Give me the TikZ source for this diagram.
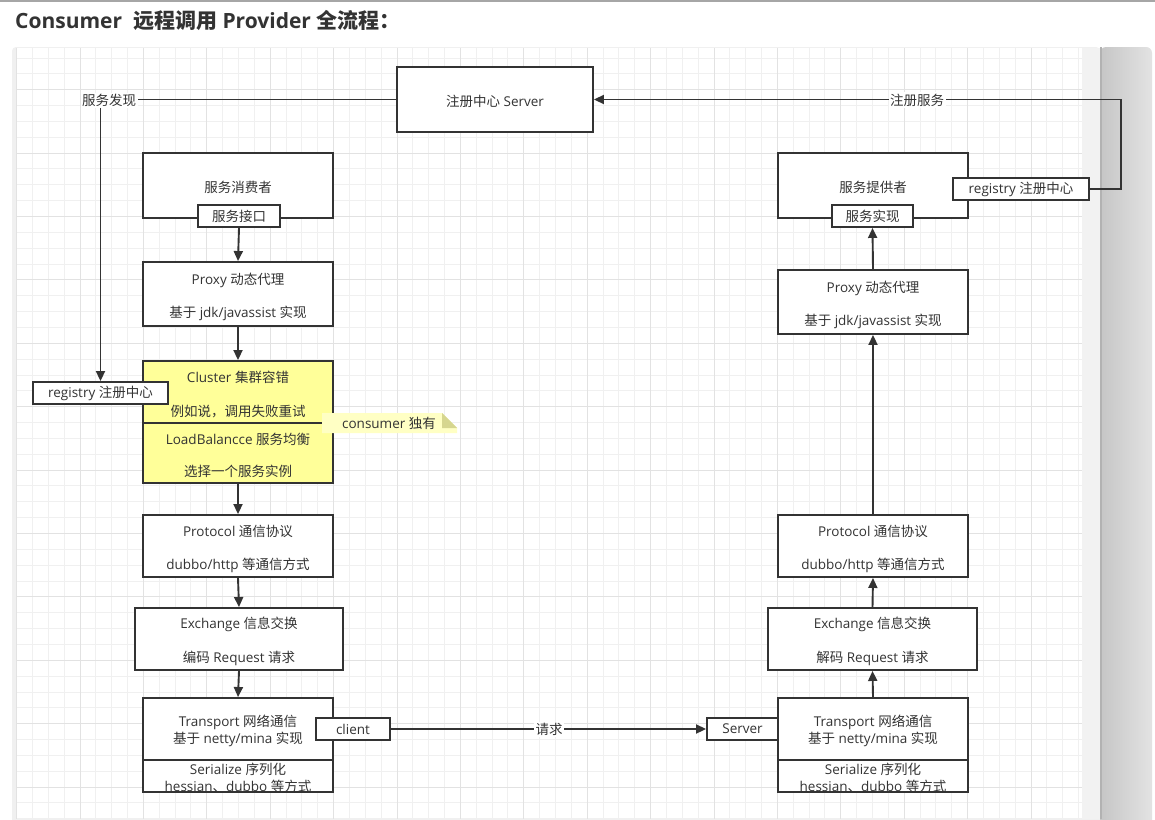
\documentclass[tikz,border=0pt]{standalone}
\usepackage{fontspec}
\setmainfont{Open Sans}
\newfontfamily\zh{Noto Sans CJK SC}
\usetikzlibrary{arrows.meta}
\definecolor{ink}{HTML}{333333}
\definecolor{gridminor}{HTML}{F0F0F0}
\definecolor{gridmajor}{HTML}{E2E2E2}
\definecolor{yel}{HTML}{FFFF99}
\definecolor{notefill}{HTML}{FFFFC4}
\definecolor{foldfill}{HTML}{D6D68F}
\definecolor{edgegrey}{HTML}{F2F2F2}
\tikzset{
  box/.style={draw=ink, line width=1.9pt, fill=white, inner sep=0pt},
  ybox/.style={box, fill=yel},
  small/.style={draw=ink, line width=1.9pt, fill=white, inner sep=0pt, text=ink,
    font=\fontsize{13.5}{17}\selectfont, minimum height=22pt},
  lbl/.style={fill=white, inner sep=1.5pt, text=ink, font=\fontsize{13.5}{17}\selectfont},
  txt/.style={inner sep=0pt, text=ink, font=\fontsize{13.5}{17}\selectfont, align=center},
  line/.style={draw=ink, line width=1.9pt},
  conn/.style={line, -{Triangle[length=10pt,width=9pt]}},
}
\begin{document}
\begin{tikzpicture}[x=1pt,y=-1pt]
\useasboundingbox (0,0) rectangle (1155,819);
% page chrome
\fill[white] (0,0) rectangle (1155,819);
\draw[gray!70, line width=1.5pt] (0,0.8) -- (1155,0.8);
\node[anchor=west, inner sep=0pt, text=ink, font=\fontsize{21}{25}\selectfont\bfseries] (title) at (15,20)
  {Consumer\ \ {\zh\bfseries 远程调用} Provider {\zh\bfseries 全流程：}};
\fill[gray!12, rounded corners=4pt] (12,47) rectangle (1100,830);
\fill[white] (16,48) rectangle (1082,819);
\fill[edgegrey] (1082,48) rectangle (1100,819);
\shade[left color=gray!45, right color=gray!22, rounded corners=6pt] (1100,47) rectangle (1152,830);
\fill[gray!60] (1100,47) rectangle (1101.5,819);
% grid
\foreach \i in {0,...,67} {\draw[gridminor, line width=0.8pt] ({16.5+15.85*\i},48) -- ({16.5+15.85*\i},819);}
\foreach \j in {0,...,48} {\draw[gridminor, line width=0.8pt] (16,{57.9+15.85*\j}) -- (1082,{57.9+15.85*\j});}
\foreach \i in {0,...,16} {\draw[gridmajor, line width=0.8pt] ({16.5+63.4*\i},48) -- ({16.5+63.4*\i},819);}
\foreach \j in {0,...,11} {\draw[gridmajor, line width=0.8pt] (16,{89.6+63.4*\j}) -- (1082,{89.6+63.4*\j});}

% registry server
\node[box, minimum width=196pt, minimum height=65pt] (regserver) at (495,99.5) {};
\node[txt] (regservert) at ([yshift=-1.5pt]regserver.center) {{\zh 注册中心} Server};

% consumer column
\node[box, minimum width=190pt, minimum height=65pt] (consumer) at (238,185.5) {};
\node[txt] (consumert) at ([yshift=-2pt]consumer.center) {\zh 服务消费者};
\node[small, minimum width=82pt] (svcif) at (239,216) {\zh 服务接口};
\node[box, minimum width=190pt, minimum height=64pt] (proxyL) at (238,294) {};
\node[txt] (proxyLt) at ([yshift=-2.5pt]proxyL.center)
  {Proxy {\zh 动态代理}\\[16pt]{\zh 基于} jdk/javassist {\zh 实现}};
\node[ybox, minimum width=190pt, minimum height=62pt] (clusterU) at (238,392) {};
\node[txt] (clusterUt) at ([yshift=-2.5pt]clusterU.center)
  {Cluster {\zh 集群容错}\\[17pt]{\zh 例如说，调用失败重试}};
\node[ybox, minimum width=190pt, minimum height=60pt] (lbL) at (238,453) {};
\node[txt] (lbLt) at ([yshift=-2pt]lbL.center)
  {LoadBalancce {\zh 服务均衡}\\[15pt]{\zh 选择一个服务实例}};
\node[box, minimum width=190pt, minimum height=62pt] (protoL) at (238,546) {};
\node[txt] (protoLt) at ([yshift=-2.5pt]protoL.center)
  {Protocol {\zh 通信协议}\\[16pt]dubbo/http {\zh 等通信方式}};
\node[box, minimum width=208pt, minimum height=62pt] (exchL) at (239,639) {};
\node[txt] (exchLt) at ([yshift=-2.5pt]exchL.center)
  {Exchange {\zh 信息交换}\\[17pt]{\zh 编码} Request {\zh 请求}};
\node[box, minimum width=190pt, minimum height=62pt] (transL) at (238,729) {};
\node[txt] (transLt) at ([yshift=-2pt]transL.center)
  {Transport {\zh 网络通信}\\{\zh 基于} netty/mina {\zh 实现}};
\node[box, minimum width=190pt, minimum height=32pt] (serL) at (238,776) {};
\node[txt] (serLt) at ([yshift=-2pt]serL.center)
  {Serialize {\zh 序列化}\\hessian{\zh 、}dubbo {\zh 等方式}};
\node[small, minimum width=74pt] (client) at (353,729) {client};
\node[small, minimum width=135pt] (regL) at (100.5,393) {registry {\zh 注册中心}};

% provider column
\node[box, minimum width=190pt, minimum height=65pt] (provider) at (873,185.5) {};
\node[txt] (providert) at ([yshift=-2pt]provider.center) {\zh 服务提供者};
\node[small, minimum width=81pt] (svcimpl) at (872.5,216) {\zh 服务实现};
\node[small, minimum width=136pt] (regR) at (1021,189) {registry {\zh 注册中心}};
\node[box, minimum width=190pt, minimum height=64pt] (proxyR) at (873,302) {};
\node[txt] (proxyRt) at ([yshift=-2.5pt]proxyR.center)
  {Proxy {\zh 动态代理}\\[16pt]{\zh 基于} jdk/javassist {\zh 实现}};
\node[box, minimum width=190pt, minimum height=62pt] (protoR) at (873,546) {};
\node[txt] (protoRt) at ([yshift=-2.5pt]protoR.center)
  {Protocol {\zh 通信协议}\\[16pt]dubbo/http {\zh 等通信方式}};
\node[box, minimum width=209pt, minimum height=62pt] (exchR) at (872.5,639) {};
\node[txt] (exchRt) at ([yshift=-2.5pt]exchR.center)
  {Exchange {\zh 信息交换}\\[17pt]{\zh 解码} Request {\zh 请求}};
\node[box, minimum width=190pt, minimum height=62pt] (transR) at (873,729) {};
\node[txt] (transRt) at ([yshift=-2pt]transR.center)
  {Transport {\zh 网络通信}\\{\zh 基于} netty/mina {\zh 实现}};
\node[box, minimum width=190pt, minimum height=32pt] (serR) at (873,776) {};
\node[txt] (serRt) at ([yshift=-2pt]serR.center)
  {Serialize {\zh 序列化}\\hessian{\zh 、}dubbo {\zh 等方式}};
\node[small, minimum width=71pt] (server) at (742.5,729) {Server};

% note
\fill[notefill] (322,413) -- (442,413) -- (457,428) -- (457,433) -- (322,433) -- cycle;
\fill[foldfill] (442,413) -- (442,428) -- (457,428) -- cycle;
\node[txt] (note) at (389,423.5) {consumer {\zh 独有}};

% connectors left
\draw[conn] (svcif.south) -- (proxyL.north);
\draw[conn] (proxyL.south) -- (clusterU.north);
\draw[conn] (lbL.south) -- (protoL.north);
\draw[conn] (protoL.south) -- (exchL.north);
\draw[conn] (exchL.south) -- (transL.north);
% connectors right
\draw[conn] (transR.north) -- (exchR.south);
\draw[conn] (exchR.north) -- (protoR.south);
\draw[conn] (protoR.north) -- (proxyR.south);
\draw[conn] (proxyR.north) -- (svcimpl.south);
% request
\draw[conn] (client.east) -- (server.west);
\node[lbl] (req) at (549,729.5) {\zh 请求};
% discovery
\node[lbl] (disc) at (109,100.5) {\zh 服务发现};
\draw[line] (regserver.west) -- (regserver.west -| disc.east);
\draw[conn] (disc.south -| regL.north) -- (regL.north);
% registration
\coordinate (rc) at (1121,99.5);
\draw[conn] (regR.east) -| (rc) -- (regserver.east);
\node[lbl] (regsvc) at (917,100) {\zh 注册服务};
\end{tikzpicture}
\end{document}
